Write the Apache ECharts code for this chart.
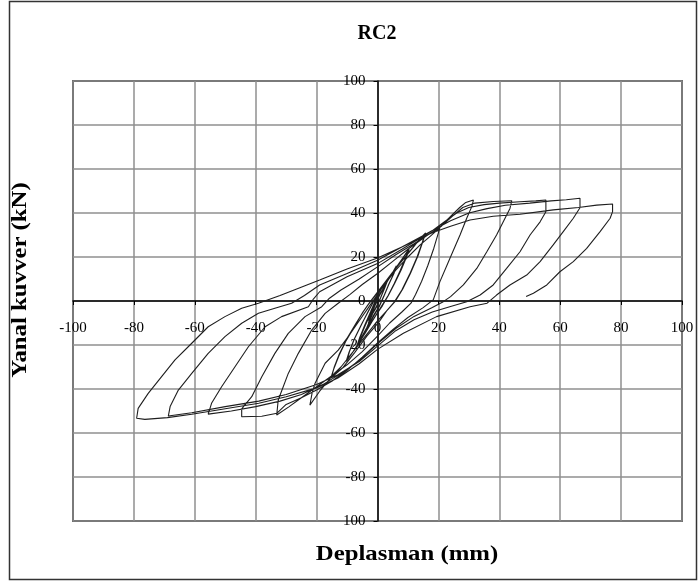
<!DOCTYPE html>
<html>
<head>
<meta charset="utf-8">
<script src="https://cdn.jsdelivr.net/npm/echarts@6/dist/echarts.min.js"></script>
<style>html,body{margin:0;padding:0;background:#fff}#c{width:700px;height:583px}</style>
</head>
<body>
<div id="c"></div>
<script>
// ---- data (displacement mm, lateral force kN) ----
const titleText = 'RC2';
const xName = 'Deplasman (mm)';
const yName = 'Yanal kuvver (kN)';
const xTicks = [-100, -80, -60, -40, -20, 0, 20, 40, 60, 80, 100];
const yTicks = [-100, -80, -60, -40, -20, 0, 20, 40, 60, 80, 100];

const smallCycles = [
  [0,0],[-1,-2.5],[-2,-6],[-3,-9],[-2.2,-6],[-1,-2],[0,1],[1.5,4.5],[3,8.5],[2.2,5.5],[1,1.5],[0,-1.5],
  [-1.5,-5.5],[-3,-10],[-2,-6.5],[-0.8,-2],[0.5,2],[2,6],[3.2,9],[2.4,6],[1.2,2],[0,-2],
  [-1.5,-5.5],[-3.5,-12],[-5.5,-17],[-6.5,-20],[-5.5,-16],[-4,-11],[-2,-5],[-0.5,0],[1.5,4.5],[3.5,9.5],[5,13],[6,15.5],[5.2,12],[3.5,7],[2,2],[0.5,-2.5],
  [-1.5,-7],[-3.5,-12.5],[-6,-18.5],[-6.8,-20.5],[-5.8,-16.5],[-4.2,-11],[-2.3,-5],[-0.6,0.5],[1.6,5],[3.6,10],[5.2,13.5],[6.2,16],[5.4,12.5],[3.7,7.5],[2.2,2.5],[0.6,-2.5],
  [-1.5,-7.5],[-4,-14],[-7,-21],[-10,-27],[-9.2,-23],[-7.5,-17],[-5,-10],[-3,-4.5],[-1,0.5],[2,7],[5,13],[8,19],[10,23],[9.3,20],[7.5,14],[5.5,8],[3.5,2.5],[1.5,-2],
  [-1.2,-8],[-4.2,-14.5],[-7.2,-21.5],[-10.3,-27.5],[-9.4,-23.5],[-7.7,-17.5],[-5.2,-10.5],[-3.1,-5],[-1.1,0.2],[2.1,7.2],[5.1,13.3],[8.2,19.3],[10.4,23.5],[9.6,20.2],[7.8,14.2],[5.7,8.2],[3.6,2.6],[1.6,-2.2],
  [-1,-7.5],[-4,-14.5],[-8,-23],[-12,-30],[-15,-34],[-14.2,-30],[-12.5,-24],[-10,-17],[-7,-10],[-4.5,-4.5],[-2.5,-0.5],[0,4],[3,9.5],[6,15],[9,20],[12,25],[14,28],[15.5,30.5],[14.8,27],[13,20],[10.5,12],[8,5],[5.5,-0.5],[3,-4.5],
  [0.5,-9.5],[-3.5,-16],[-7.5,-23.5],[-11.5,-30.5],[-15.3,-35],[-14.4,-31],[-12.7,-25],[-10.3,-18],[-7.3,-11],[-4.8,-5],[-2.7,-1],[-0.2,3.5],[2.8,9],[5.8,14.5],[8.8,19.5],[11.8,24.5],[14,28.5],[15.8,31],[15,27.5],[13.3,20.5],[10.8,12.5],[8.3,5.5],[5.8,-0.2],[3,-4.5]
];
const loop22 = [
  [0,-9],[-4,-16],[-8,-23],[-12,-30],[-16,-36],[-19,-41],[-22.2,-47.3],[-21.5,-42],[-20.5,-37.4],[-17.2,-28.3],[-12.9,-22.3],[-9,-15],[-6,-9],[-3,-3],[-1,1],
  [2,7],[6,14],[10,20],[14,25.5],[17,29],[19.4,32],[20.5,33.5],[20,31],[18.5,24],[16.5,16],[14.5,9],[12.5,3],[11,-1]
];
const loop33 = [
  [8,-5],[4,-10],[0,-16],[-5,-23],[-10,-29],[-15,-34],[-20,-39],[-25,-44],[-29,-48],[-33.1,-51.8],[-32.6,-45],[-29.3,-32.9],[-26,-23.8],[-21.6,-13.2],[-17.2,-5.6],[-12.9,-1],
  [-9,3],[-5,7.5],[0,12.5],[5,18],[10,23.5],[16,29.5],[20,33],[24,38.5],[27,42.5],[29,44.8],[31.5,45.9],[31,43],[29.3,37.6],[27.1,30],[23.8,19.4],[20.5,8.8],[18.3,0.5]
];
const loop44 = [
  [15,-3],[10,-7.5],[5,-13],[0,-19],[-5,-25.5],[-10,-31.5],[-15,-36.5],[-20,-40.5],[-25,-44],[-30,-47],[-33,-51],[-38,-52.4],[-44.6,-52.6],[-44.6,-49],[-41.3,-43.5],[-38,-34.4],[-33.7,-23.8],[-29.3,-14.7],[-23.8,-7.1],[-18.3,-2.6],
  [-16,1],[-12,5],[-6,10],[0,15.5],[6,21],[12,26],[17,30.5],[21,34],[25,39],[28,42.5],[32,44.5],[38,45.2],[44.1,45.6],[43.5,42.1],[41.3,36],[39.1,30],[35.9,22.4],[32.6,14.8],[28.2,7.3],[24,2],[21.6,-0.3]
];
const loop55 = [
  [18,-3],[12,-7],[6,-12.5],[0,-19.5],[-6,-27],[-12,-33],[-18,-38],[-25,-42.5],[-32,-45.5],[-40,-48],[-48,-50],[-55.6,-51.4],[-54.5,-46.5],[-51.2,-39],[-46.8,-29.9],[-42.4,-20.8],[-36.9,-11.7],[-31.5,-7.1],[-22.7,-2.6],
  [-21,1],[-19,4.2],[-10,11],[0,17],[8,23.5],[14,28.5],[18,32],[22,36],[26,40],[30,42.5],[35,43.8],[40,44.5],[46.8,45.1],[52,45.5],[55.3,45.9],[55.3,40.6],[53.4,36],[50.1,30],[46.8,22.4],[42.4,14.8],[38,7.3],[33.7,2.7],[29.3,-0.3]
];
const loop66 = [
  [24,-2.5],[18,-5],[12,-8.5],[6,-13.5],[0,-20.5],[-6,-27.5],[-13,-33.5],[-20,-38],[-30,-42.5],[-39,-45.5],[-50,-48],[-61,-50.8],[-68.7,-52.3],[-68.1,-48],[-65.4,-40.5],[-61,-32.9],[-55.6,-23.8],[-50.1,-16.2],[-44.6,-10.1],[-39.1,-5.6],[-33.7,-3.3],[-28.2,-1],
  [-24,2.5],[-19,7.3],[-10,12.5],[0,18.5],[8,24.5],[14,29],[18,32],[24,36.5],[30,40],[36,42],[42,43.5],[50,44.5],[57,45.5],[62,46],[66.5,46.7],[66.5,42.4],[64.3,37.6],[61,31.5],[57.7,25.5],[53.4,17.9],[49,11.8],[43.5,7.3],[39.1,2.7],[36,-1]
];
const loop77 = [
  [30.4,-2.6],[19.4,-7.1],[8.5,-14.7],[0,-22],[-6,-28.5],[-13,-35],[-20,-39.5],[-30,-43.5],[-39,-46.5],[-50,-49],[-61,-51.5],[-69,-53],[-76.4,-53.8],[-79.1,-53.3],
  [-78.6,-48.8],[-75.3,-42],[-70.9,-34.4],[-66.5,-26.8],[-61,-19.2],[-55.6,-11.7],[-50.1,-7.1],[-44.6,-3.3],[-39.1,-1],[-32,2.5],[-25.5,6],[-19,9.5],[-10,14.5],[0,19.5],
  [8,24.5],[14,28.5],[18,31],[24,34],[30.4,36.8],[38,38.5],[46.8,39.4],[57.7,41.4],[66,42.5],[66.5,43.3],[72,43.6],[77.2,44.1],[77.2,40.6],[76.4,37.6],[73.1,31.5],[68.7,23.9],[64.3,17.9],[59.9,13.3],[55.6,7.3],[51.2,3.5],[48.8,2]
];
const hysteresis = [].concat(smallCycles, loop22, loop33, loop44, loop55, loop66, loop77);

const serif = '"Liberation Serif", "Times New Roman", serif';
const gridBox = {left: 73, right: 18, top: 81, bottom: 62};
const plotW = 700 - gridBox.left - gridBox.right;
const plotH = 583 - gridBox.top - gridBox.bottom;
const chart = echarts.init(document.getElementById('c'), null, {renderer: 'canvas'});
const axisCommon = {
  type: 'value', min: -100, max: 100, interval: 20,
  axisLine: {onZero: false, lineStyle: {color: '#000', width: 1.5}},
  axisTick: {show: true, length: 4, lineStyle: {color: '#000', width: 1}},
  splitLine: {show: true, lineStyle: {color: '#8f8f8f', width: 1.5}}
};
chart.setOption({
  animation: false,
  backgroundColor: '#fff',
  grid: Object.assign({show: true, borderColor: '#000', borderWidth: 1.5, backgroundColor: 'transparent'}, gridBox),
  xAxis: Object.assign({}, axisCommon, {
    position: 'bottom', offset: -plotH / 2,
    axisLabel: {margin: 20, color: '#000', fontFamily: serif, fontSize: 15,
      formatter: v => xTicks.includes(v) ? String(v) : ''}
  }),
  yAxis: Object.assign({}, axisCommon, {
    position: 'left', offset: -plotW / 2,
    axisLabel: {margin: 12, color: '#000', fontFamily: serif, fontSize: 15,
      formatter: v => yTicks.includes(v) ? (v === -100 ? '100' : String(v)) : ''}
  }),
  series: [{
    type: 'line', data: hysteresis, showSymbol: false, symbol: 'none',
    lineStyle: {color: '#1e1e1e', width: 1.1}, smooth: false, clip: true
  }],
  graphic: [
    {type: 'rect', shape: {x: 9.5, y: 1.5, width: 687, height: 578}, style: {fill: 'none', stroke: '#333', lineWidth: 1.5}, silent: true},
    {type: 'text', x: 377, y: 34, style: {text: titleText, font: 'bold 20px ' + serif, fill: '#000', textAlign: 'center', textVerticalAlign: 'middle'}},
    {type: 'text', x: 407, y: 555, scaleX: 1.18, style: {text: xName, font: 'bold 21px ' + serif, fill: '#000', textAlign: 'center', textVerticalAlign: 'middle'}},
    {type: 'text', x: 21, y: 280, rotation: Math.PI / 2, scaleX: 1.18, style: {text: yName, font: 'bold 21px ' + serif, fill: '#000', textAlign: 'center', textVerticalAlign: 'middle'}}
  ]
});
</script>
</body>
</html>
